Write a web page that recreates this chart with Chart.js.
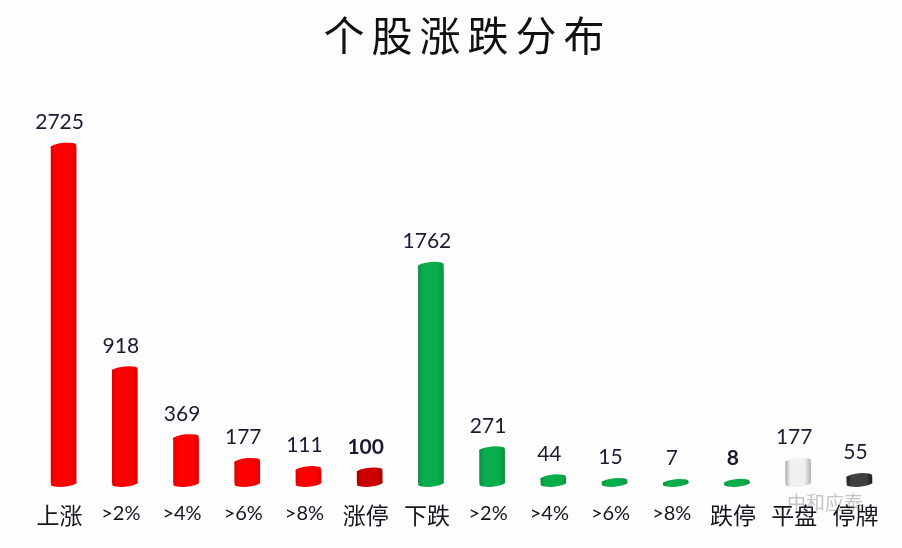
<!DOCTYPE html>
<html>
<head>
<meta charset="utf-8">
<script src="https://cdn.jsdelivr.net/npm/chart.js@4"></script>
<style>
  html, body { margin: 0; padding: 0; background: #fdfdfd; }
  #wrap { width: 902px; height: 548px; }
</style>
</head>
<body>
<div id="wrap"><canvas id="chartGuxi"></canvas></div>
<script>
const titulo = "个股涨跌分布";
const categorias = ["上涨", ">2%", ">4%", ">6%", ">8%", "涨停", "下跌", ">2%", ">4%", ">6%", ">8%", "跌停", "平盘", "停牌"];
const valores = [2725, 918, 369, 177, 111, 100, 1762, 271, 44, 15, 7, 8, 177, 55];
const grupos = ["up", "up", "up", "up", "up", "limit", "down", "down", "down", "down", "down", "down", "flat", "halt"];
const negritas = [5, 11];

// colores: borde, centro
const paleta = {
    up: ["#dc0000", "#ff0000"],
    limit: ["#a80000", "#cc0000"],
    down: ["#0b8f40", "#0aad4c"],
    flat: ["#b0b0b0", "#f0f0f0"],
    halt: ["#1c1c1c", "#404040"],
};

const fuenteLatina = "Lato, 'Noto Sans', sans-serif";
const fuenteCJK = "'Noto Sans CJK SC', sans-serif";
const desvioTexto = -4;
const proporcionBarra = 0.42;

function gradiente(ctx, x, ancho, grupo) {
    const c = paleta[grupo];
    const g = ctx.createLinearGradient(x - ancho / 2, 0, x + ancho / 2, 0);
    g.addColorStop(0, c[0]);
    g.addColorStop(0.2, c[1]);
    g.addColorStop(0.75, c[1]);
    g.addColorStop(1, c[0]);
    return g;
}

// Tapas elipticas y valores encima de cada barra
const cilindros = {
    id: "cilindros",
    beforeDatasetsDraw(chart) {
        // el degradado necesita la posicion final de cada barra
        chart.getDatasetMeta(0).data.forEach((bar, i) => {
            bar.options.backgroundColor = gradiente(chart.ctx, bar.x, bar.width, grupos[i]);
        });
    },
    afterDatasetsDraw(chart) {
        const ctx = chart.ctx;
        chart.getDatasetMeta(0).data.forEach((bar, i) => {
            const g = grupos[i];
            ctx.save();
            ctx.fillStyle = gradiente(ctx, bar.x, bar.width, g);
            [bar.base, bar.y].forEach((yy) => {
                ctx.beginPath();
                ctx.ellipse(bar.x, yy, bar.width / 2, 3.4, -0.09, 0, Math.PI * 2);
                ctx.fill();
            });

            ctx.font = (negritas.includes(i) ? "bold " : "") + "21px " + fuenteLatina;
            ctx.fillStyle = "#1b1a33";
            ctx.textAlign = "center";
            ctx.textBaseline = "middle";
            ctx.fillText(String(valores[i]), bar.x + desvioTexto, bar.y - 24);
            ctx.restore();
        });
    },
};

// Marca de agua tenue sobre las ultimas etiquetas
const marcaAgua = {
    id: "marcaAgua",
    afterDraw(chart) {
        const ctx = chart.ctx;
        ctx.save();
        ctx.font = "19px " + fuenteCJK;
        ctx.fillStyle = "rgba(110,110,110,0.4)";
        ctx.textAlign = "left";
        ctx.textBaseline = "middle";
        ctx.fillText("中和应泰", 787, 503);
        ctx.restore();
    },
};

// Separacion entre caracteres solo para el titulo
const espaciadoTitulo = {
    id: "espaciadoTitulo",
    afterLayout(chart) {
        const caja = chart.titleBlock;
        if (caja.drawOriginal) return;
        caja.drawOriginal = caja.draw;
        caja.draw = function () {
            const ctx = chart.ctx;
            ctx.save();
            ctx.letterSpacing = "7px";
            ctx.translate(6, 0);
            caja.drawOriginal();
            ctx.restore();
        };
    },
};

new Chart(document.getElementById("chartGuxi"), {
    type: "bar",
    data: {
        labels: categorias,
        datasets: [
            {
                data: valores,
                backgroundColor: (c) => paleta[grupos[c.dataIndex]][1],
                barPercentage: proporcionBarra,
                categoryPercentage: 1,
            },
        ],
    },
    options: {
        responsive: true,
        maintainAspectRatio: false,
        animation: false,
        layout: { padding: { left: 33, right: 12, top: 11, bottom: 9 } },
        plugins: {
            legend: { display: false },
            tooltip: { enabled: false },
            title: {
                display: true,
                text: titulo,
                color: "#111111",
                font: { family: fuenteCJK, size: 41, weight: "normal" },
                padding: { top: 0, bottom: 52 },
            },
        },
        scales: {
            x: {
                grid: { display: false },
                border: { display: false },
                ticks: {
                    color: "#15141f",
                    padding: 10,
                    labelOffset: desvioTexto,
                    maxRotation: 0,
                    autoSkip: false,
                    font: (c) => {
                        const lab = categorias[c.index] || "";
                        return lab.startsWith(">")
                            ? { family: fuenteLatina, size: 20 }
                            : { family: fuenteCJK, size: 23 };
                    },
                },
            },
            y: { display: false, min: 0, max: 3000 },
        },
    },
    plugins: [cilindros, marcaAgua, espaciadoTitulo],
});
</script>
</body>
</html>
